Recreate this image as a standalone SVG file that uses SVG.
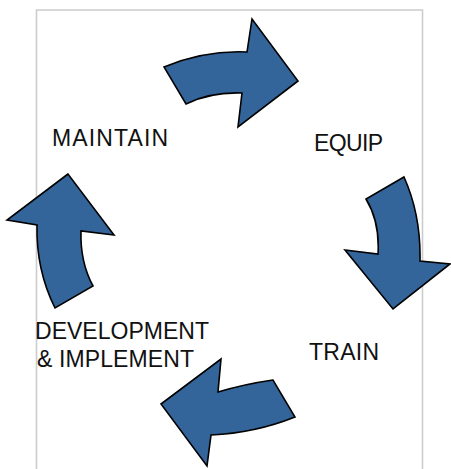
<svg xmlns="http://www.w3.org/2000/svg" width="451" height="469" viewBox="0 0 451 469">
<style>
.lbl{font-family:"Liberation Sans","DejaVu Sans",sans-serif;font-size:23px;fill:#111}
.arr{fill:#34659a;stroke:#000;stroke-width:1.6;stroke-linejoin:miter}
.frame{fill:none;stroke:#cccccc;stroke-width:1.6}
</style>
<rect width="451" height="469" fill="#fff"/>
<path class="frame" d="M36.5,470 V10 H422.5 V470"/>
<g id="maintain"><text class="lbl" x="52" y="146" textLength="116" lengthAdjust="spacing">MAINTAIN</text></g>
<g id="equip"><text class="lbl" x="314" y="151" textLength="69" lengthAdjust="spacing">EQUIP</text></g>
<g id="train"><text class="lbl" x="309" y="360" textLength="70" lengthAdjust="spacing">TRAIN</text></g>
<g id="develop">
<text class="lbl" x="35" y="339" textLength="174" lengthAdjust="spacing">DEVELOPMENT</text>
<text class="lbl" x="37" y="367" textLength="157" lengthAdjust="spacing">&amp; IMPLEMENT</text>
</g>
<g id="connectors">
<path class="arr" d="M164,67 Q205,50 247,52 L252,19 L298,81 L238,127 L242,93 Q210,92 186,104 Z"/>
<path class="arr" d="M404,177 Q421,215 420,261 L450,264 L393,309 L345,250 L378,254 Q380,222 366,199 Z"/>
<path class="arr" d="M273,380 Q245,384 218,392 L221,359 L161,404 L207,466 L211,435 Q255,433 295,417 Z"/>
<path class="arr" d="M68,174 L7,220 L37,225 Q36,270 55,308 L93,286 Q80,262 81,231 L114,235 Z"/>
</g>
</svg>
